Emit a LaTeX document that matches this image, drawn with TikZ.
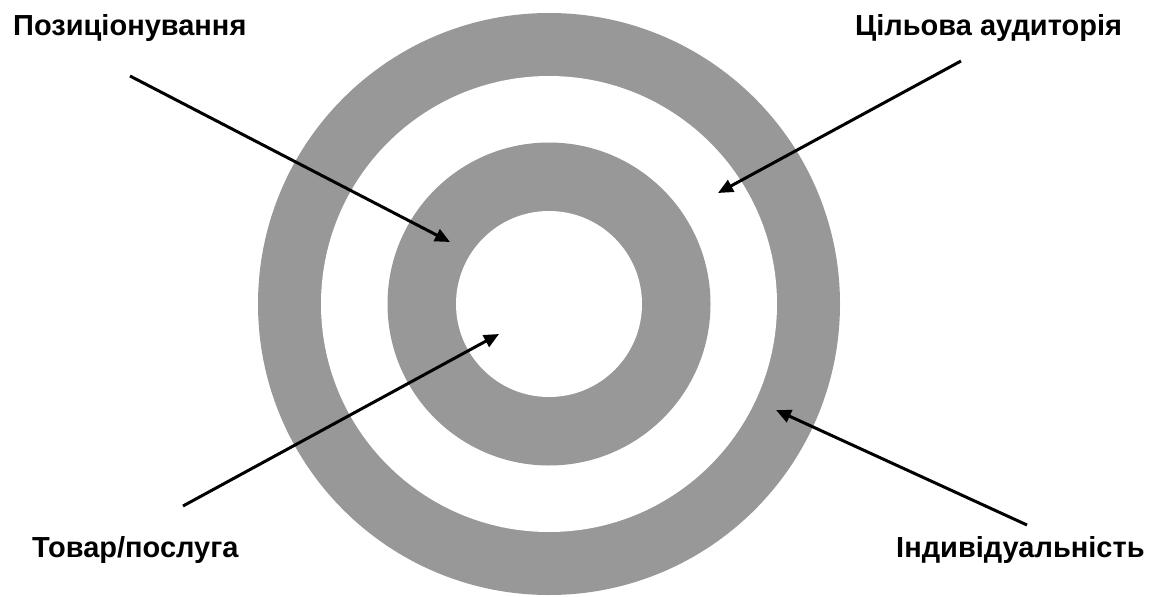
\documentclass[tikz,border=0pt]{standalone}
\usepackage{fontspec}
\setmainfont{Liberation Sans}
\usetikzlibrary{arrows.meta}
\definecolor{ringgray}{RGB}{152,152,152}
\tikzset{
  lbl/.style={font=\bfseries\fontsize{29}{32}\selectfont, inner sep=0pt, anchor=base west},
  pointer/.style={line width=3pt, -{Triangle[length=15pt,width=13pt]}},
}
\begin{document}
\begin{tikzpicture}[x=1pt,y=-1pt]
\useasboundingbox (0,0) rectangle (1168,597);
\coordinate (c) at (549,304);
\fill[ringgray] (c) circle[radius=291];
\fill[white] (c) circle[radius=228];
\fill[ringgray] (c) circle[radius=161.5];
\fill[white] (c) circle[radius=93];

\node[lbl] (pos) at (13,35) {Позиціонування};
\node[lbl] (aud) at (855,35) {Цільова аудиторія};
\node[lbl] (tov) at (32,557) {Товар/послуга};
\node[lbl] (ind) at (896,557) {Індивідуальність};

\coordinate (posS) at (130,76);
\coordinate (posT) at (450,242);
\coordinate (audS) at (961,61);
\coordinate (audT) at (718,193);
\coordinate (tovS) at (183,506);
\coordinate (tovT) at (499,334);
\coordinate (indS) at (1027,525);
\coordinate (indT) at (776,410);

\draw[pointer] (posS) -- (posT);
\draw[pointer] (audS) -- (audT);
\draw[pointer] (tovS) -- (tovT);
\draw[pointer] (indS) -- (indT);
\end{tikzpicture}
\end{document}
